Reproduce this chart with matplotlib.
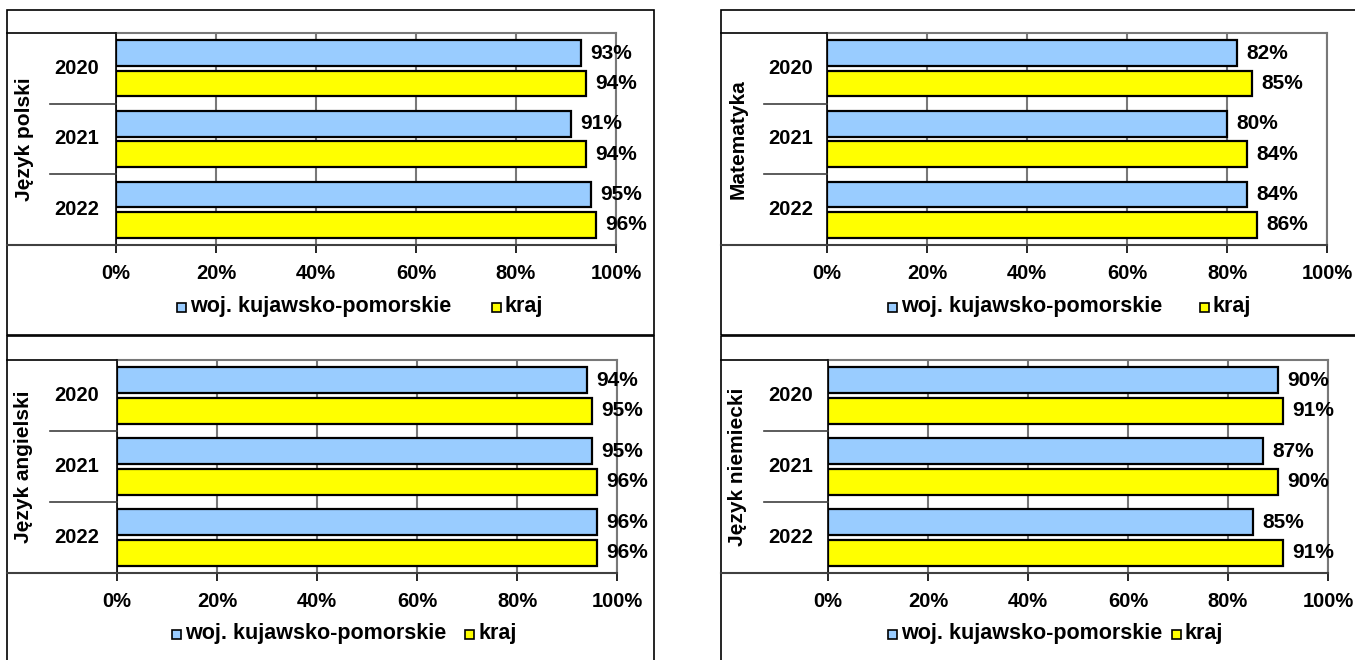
import numpy as np
import matplotlib
matplotlib.use("Agg")
import matplotlib.pyplot as plt
from matplotlib.patches import Rectangle
from matplotlib.lines import Line2D

plt.rcParams["font.family"] = ["Liberation Sans", "DejaVu Sans"]
plt.rcParams["font.weight"] = "bold"

# data
subjects = ["Język polski", "Matematyka", "Język angielski", "Język niemiecki"]
years = ["2020", "2021", "2022"]
woj = [[93, 91, 95], [82, 80, 84], [94, 95, 96], [90, 87, 85]]
kraj = [[94, 94, 96], [85, 84, 86], [95, 96, 96], [91, 90, 91]]
series_names = ["woj. kujawsko-pomorskie", "kraj"]
ticks = [0, 20, 40, 60, 80, 100]

BLUE = "#99CCFF"
YELLOW = "#FFFF00"
GRID = "#787878"

W, H = 1355, 660

# panel layout in pixels: panel box, plot box, legend square x positions, legend y
PANELS = [
    dict(box=(7, 10, 654, 335), plot=(116, 33, 616, 245), leg=(177, 492), ly=307),
    dict(box=(721, 10, 1362, 335), plot=(827, 33, 1327, 245), leg=(888, 1200), ly=307),
    dict(box=(7, 336, 654, 668), plot=(117, 360, 617, 573), leg=(172, 465), ly=634),
    dict(box=(721, 336, 1362, 668), plot=(828, 360, 1328, 573), leg=(888, 1172), ly=634),
]


def fx(x):
    return x / W


def fy(y):
    return 1 - y / H


def fig_line(fig, xs, ys, color="black", lw=1.0):
    fig.add_artist(Line2D([fx(x) for x in xs], [fy(y) for y in ys],
                          transform=fig.transFigure, color=color, lw=lw))


fig = plt.figure(figsize=(W / 100, H / 100), dpi=100)

for k, p in enumerate(PANELS):
    bx0, by0, bx1, by1 = p["box"]
    fig.add_artist(Rectangle((fx(bx0), fy(by1)), fx(bx1) - fx(bx0), fy(by0) - fy(by1),
                             transform=fig.transFigure, fill=False,
                             edgecolor="black", lw=1.2))

    x0, y0, x1, y1 = p["plot"]
    ax = fig.add_axes([fx(x0), fy(y1), fx(x1) - fx(x0), fy(y0) - fy(y1)])
    ax.set_xlim(0, 100)
    ax.set_ylim(3, 0)

    pos = np.arange(3)
    ax.barh(pos + 0.285, woj[k], height=0.36, color=BLUE, edgecolor="black",
            lw=1.6, zorder=3)
    ax.barh(pos + 0.715, kraj[k], height=0.36, color=YELLOW, edgecolor="black",
            lw=1.6, zorder=3)
    for i in range(3):
        ax.annotate(f"{woj[k][i]}%", (woj[k][i], i + 0.285), xytext=(7, 0),
                    textcoords="offset points", va="center", ha="left",
                    fontsize=15, fontweight="bold", annotation_clip=False)
        ax.annotate(f"{kraj[k][i]}%", (kraj[k][i], i + 0.715), xytext=(7, 0),
                    textcoords="offset points", va="center", ha="left",
                    fontsize=15, fontweight="bold", annotation_clip=False)

    ax.set_xticks(ticks)
    ax.set_xticklabels([f"{t}%" for t in ticks], fontsize=14.5, fontweight="bold")
    ax.tick_params(axis="x", direction="out", length=6, width=1.2, pad=8,
                   color="black")
    ax.set_yticks([])
    ax.grid(axis="x", color=GRID, lw=1.5, zorder=0)
    ax.set_axisbelow(True)
    for side in ("top", "right"):
        ax.spines[side].set_color(GRID)
        ax.spines[side].set_linewidth(1.5)
    ax.spines["left"].set_color("black")
    ax.spines["left"].set_linewidth(1.2)
    ax.spines["bottom"].set_color("#404040")
    ax.spines["bottom"].set_linewidth(1.5)

    # category axis box
    fig_line(fig, [bx0, x0], [y1, y1], color="#404040", lw=1.5)
    fig_line(fig, [bx0, x0], [y0, y0], color="black", lw=1.2)
    ch = (y1 - y0) / 3
    for j in (1, 2):
        fig_line(fig, [bx0 + 43, x0], [y0 + j * ch, y0 + j * ch], color="#404040", lw=1.2)
    for j, yr in enumerate(years):
        fig.text(fx(bx0 + 70), fy(y0 + (j + 0.5) * ch), yr, ha="center", va="center",
                 fontsize=14.5, fontweight="bold")
    fig.text(fx(bx0 + 17), fy((y0 + y1) / 2), subjects[k], rotation=90,
             ha="center", va="center", fontsize=15, fontweight="bold")

    # legend
    ly = p["ly"]
    for sx, name, col in zip(p["leg"], series_names, (BLUE, YELLOW)):
        fig.add_artist(Rectangle((fx(sx), fy(ly + 4.5)), 9 / W, 9 / H,
                                 transform=fig.transFigure, facecolor=col,
                                 edgecolor="black", lw=1.2))
        fig.text(fx(sx + 13), fy(ly), name, ha="left", va="center",
                 fontsize=15.5, fontweight="bold")

fig.savefig("out.png", dpi=100)
